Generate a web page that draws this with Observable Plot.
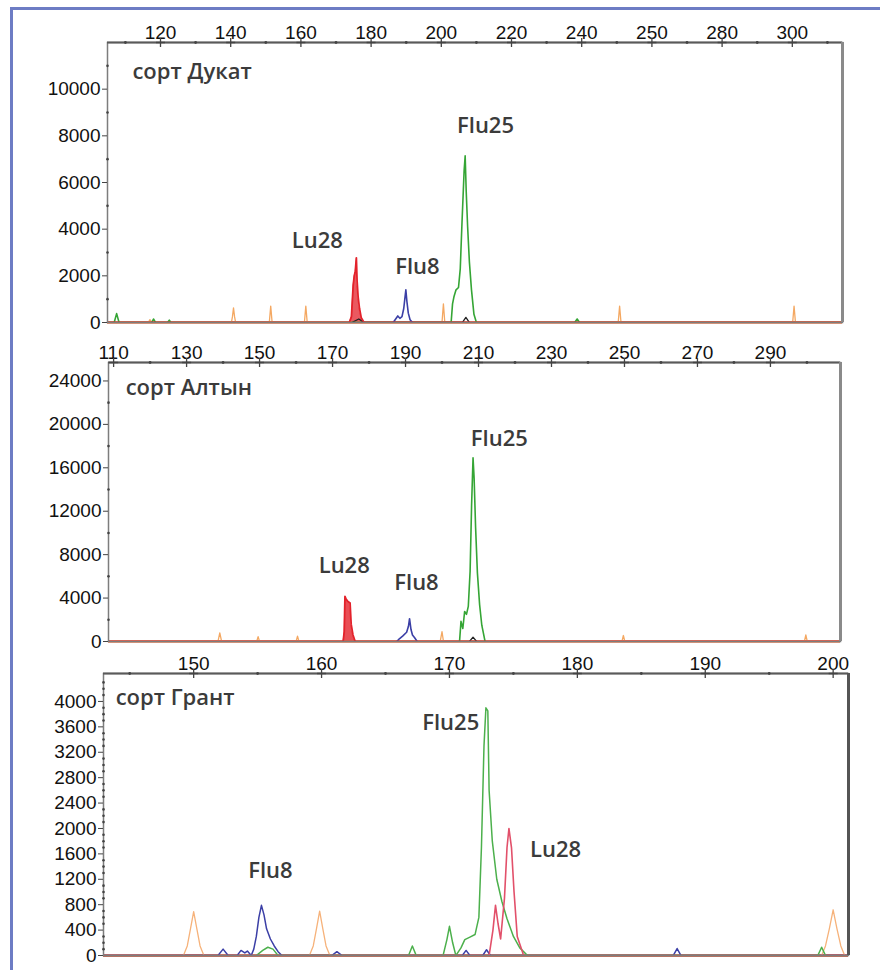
<!DOCTYPE html>
<html><head><meta charset="utf-8">
<script src="https://cdn.jsdelivr.net/npm/d3@7"></script>
<script src="https://cdn.jsdelivr.net/npm/@observablehq/plot@0.6"></script>
<style>
html,body{margin:0;padding:0;background:#fff;}
#wrap{position:relative;width:880px;height:970px;overflow:hidden;background:#fff;}
#border{position:absolute;left:10px;top:7px;width:900px;height:1000px;border-left:3px solid #6d7cc4;border-top:3px solid #6d7cc4;}
.panel{position:absolute;left:0;}
</style></head><body><div id="wrap"><div id="border"></div></div>
<script>
// ---------- Panel 1: сорт Дукат ----------
const p1XTicks = [120,140,160,180,200,220,240,260,280,300];
const p1XLabels = ["120","140","160","180","200","220","240","250","280","300"];
const p1XMinor = [110,130,150,170,190,210,230,250,270,290,310];
const p1YTicks = [0,2000,4000,6000,8000,10000];
const p1YMinor = [1000,3000,5000,7000,9000,11000];
const duk_orange = [[105,0],[116.5,0],[117,120],[117.5,0],[140.2,0],[140.5,250],[140.8,630],[141.1,250],[141.4,0],[151,0],[151.4,700],[151.8,0],[161,0],[161.4,700],[161.8,0],[200.2,0],[200.6,800],[201,0],[250.4,0],[250.8,700],[251.2,0],[300.1,0],[300.5,700],[300.9,0],[314,0]];
const duk_red = [[105,0],[173.8,0],[174.4,250],[174.9,1600],[175.2,2000],[175.5,2200],[175.8,2770],[176.0,1800],[176.3,1100],[176.7,600],[177.2,200],[178,0],[314,0]];
const duk_blue = [[186.3,0],[187,150],[187.6,280],[188.2,180],[188.8,250],[189.3,600],[189.6,1000],[189.9,1400],[190.2,900],[190.6,400],[191.1,120],[191.8,0]];
const duk_green = [[105,0],[106.8,0],[107.5,380],[108.2,0],[117.5,0],[118,150],[118.6,0],[122,0],[122.5,100],[123,0],[202.8,0],[203.2,800],[203.6,1100],[204.2,1400],[204.9,1500],[205.4,2300],[205.9,4300],[206.5,6500],[206.8,7140],[207.1,5600],[207.5,4100],[208.0,2600],[208.6,1400],[209.3,350],[210,0],[238,0],[238.7,150],[239.4,0],[314,0]];
const duk_black = [[174.5,0],[176.5,150],[178,0],[206,0],[207,220],[208,0]];
const p1Title = "сорт Дукат";
const p1Peaks = ["Lu28","Flu8","Flu25"];
const p1PeakX = [164.7,193.2,212.6];
const p1PeakY = [3500,2394,8437];

// ---------- Panel 2: сорт Алтын ----------
const p2XTicks = [110,130,150,170,190,210,230,250,270,290];
const p2XLabels = ["110","130","150","170","190","210","230","250","270","290"];
const p2XMinor = [120,140,160,180,200,220,240,260,280,300];
const p2YTicks = [0,4000,8000,12000,16000,20000,24000];
const p2YMinor = [2000,6000,10000,14000,18000,22000];
const alt_orange = [[108.6,0],[138.6,0],[139.1,800],[139.6,0],[149.2,0],[149.6,450],[150,0],[160,0],[160.4,500],[160.8,0],[199.5,0],[200,900],[200.4,0],[249.3,0],[249.7,550],[250.1,0],[299.3,0],[299.7,600],[300.1,0],[309.2,0]];
const alt_red = [[108.6,0],[172.9,0],[173.2,900],[173.4,4150],[173.7,3900],[174.2,3700],[174.8,3540],[175.1,1600],[175.6,600],[176.2,0],[309.2,0]];
const alt_blue = [[187.6,0],[188.3,250],[189.2,500],[190.3,850],[190.8,1400],[191.1,2100],[191.5,1100],[191.9,600],[192.5,350],[193.2,0]];
const alt_green = [[204.8,0],[205.2,1850],[205.7,1200],[206.2,2770],[206.7,2500],[207.2,3230],[207.7,6500],[208.1,12500],[208.5,16920],[208.8,15000],[209.2,10500],[209.7,6300],[210.3,3400],[210.9,1500],[211.8,0]];
const alt_black = [[207.5,0],[208.5,400],[209.5,0]];
const p2Title = "сорт Алтын";
const p2Peaks = ["Lu28","Flu8","Flu25"];
const p2PeakX = [173.2,193.0,215.7];
const p2PeakY = [6924,5420,18650];

// ---------- Panel 3: сорт Грант ----------
const p3XTicks = [150,160,170,180,190,200];
const p3XLabels = ["150","160","170","180","190","200"];
const p3XMinor = [145,155,165,175,185,195];
const p3YTicks = [0,400,800,1200,1600,2000,2400,2800,3200,3600,4000];
const p3YMinor = [100,200,300,500,600,700,900,1000,1100,1300,1400,1500,1700,1800,1900,2100,2200,2300,2500,2600,2700,2900,3000,3100,3300,3400,3500,3700,3800,3900,4100,4200,4300];
const gr_orange = [[142.95,0],[149.2,0],[149.5,150],[149.75,420],[150.0,690],[150.25,420],[150.5,150],[150.8,0],[159.05,0],[159.35,150],[159.6,420],[159.85,700],[160.1,420],[160.35,150],[160.65,0],[199.1,0],[199.4,150],[199.7,420],[200.0,720],[200.3,420],[200.6,150],[200.9,0],[201.2,0]];
const gr_blue = [[142.95,0],[151.9,0],[152.3,100],[152.7,0],[153.4,0],[153.7,80],[154.0,40],[154.2,70],[154.5,0],[154.7,100],[154.9,300],[155.1,600],[155.3,790],[155.5,640],[155.7,420],[156.0,260],[156.3,150],[156.6,60],[156.9,0],[160.8,0],[161.2,60],[161.6,0],[171.0,0],[171.3,80],[171.6,0],[172.6,0],[172.9,90],[173.2,0],[187.5,0],[187.8,110],[188.1,0],[201.2,0]];
const gr_green = [[154.9,0],[155.4,80],[155.8,130],[156.2,100],[156.6,0],[166.8,0],[167.1,150],[167.4,0],[169.5,0],[169.8,250],[170.0,460],[170.25,200],[170.5,0],[170.9,120],[171.2,250],[171.6,290],[172.0,330],[172.3,600],[172.5,1700],[172.7,3300],[172.85,3900],[173.0,3850],[173.1,2600],[173.35,1800],[173.7,1200],[174.1,850],[174.5,580],[175.0,300],[175.5,120],[176.1,0],[198.8,0],[199.1,130],[199.4,0]];
const gr_red = [[142.95,0],[173.1,0],[173.4,400],[173.6,790],[173.8,500],[174.0,260],[174.3,900],[174.5,1700],[174.65,2000],[174.85,1700],[175.05,1000],[175.3,300],[175.8,0],[201.2,0]];
const p3Title = "сорт Грант";
const p3Peaks = ["Flu8","Flu25","Lu28"];
const p3PeakX = [156.0,170.1,178.3];
const p3PeakY = [1327,3655,1663];

const pts = arr => arr.map(([x, y]) => ({x, y}));

function panel(o) {
  const lines = o.traces.map(t => Plot.line(pts(t.data), {x: "x", y: "y", stroke: t.color, strokeWidth: t.width, strokeOpacity: t.opacity ?? 1, clip: true}));
  const areas = o.traces.filter(t => t.fill).map(t => Plot.areaY(pts(t.data), {x: "x", y: "y", fill: t.color, fillOpacity: t.fill, clip: true}));
  const labelFont = {fontFamily: "'Open Sans', sans-serif", fontWeight: 600, fontSize: 22, fill: "#3b3b3b"};
  return Plot.plot({
    width: 880, height: o.height,
    marginTop: o.mt, marginBottom: o.mb, marginLeft: o.ml, marginRight: o.mr,
    x: {domain: o.xDomain, axis: null, label: null},
    y: {domain: o.yDomain, axis: null, label: null},
    style: {fontFamily: "'Liberation Sans', Arial, sans-serif", fontSize: "19px", color: "#111", background: "transparent", overflow: "visible"},
    marks: [
      Plot.ruleY([0], {stroke: o.baseColor, strokeWidth: 3}),
      ...areas,
      ...lines,
      Plot.frame({stroke: "#7d7d7d", strokeWidth: 1.5}),
      Plot.ruleY([o.yDomain[1]], {stroke: "#5a5a5a", strokeWidth: 2}),
      Plot.ruleX([o.xDomain[1]], {stroke: o.rightColor, strokeWidth: 3}),
      Plot.axisX({anchor: "top", ticks: o.xTicks, tickFormat: d => o.xLabels[o.xTicks.indexOf(d)], tickSize: 0, tickPadding: 4, label: null}),
      Plot.dot(o.xTicks, {x: d => d, frameAnchor: "top", symbol: "plus", r: 3, stroke: "#444", strokeWidth: 1.3}),
      Plot.dot(o.xMinor, {x: d => d, frameAnchor: "top", r: 1.4, fill: "#444"}),
      Plot.axisY({ticks: o.yTicks, tickFormat: "d", tickSize: 5, tickPadding: 2, label: null, stroke: "#444"}),
      Plot.dot(o.yMinor, {y: d => d, frameAnchor: "left", r: 1.3, fill: "#444"}),
      Plot.text([o.title], {x: () => o.titleX, y: () => o.titleY, text: d => d, textAnchor: "start", ...labelFont}),
      Plot.text(o.peaks, {x: (d, i) => o.peakX[i], y: (d, i) => o.peakY[i], text: d => d, textAnchor: "middle", ...labelFont})
    ]
  });
}

const cfgs = [
  {top: 0, height: 330, mt: 42, mb: 8, ml: 107, mr: 38, xDomain: [104.9, 314.3], yDomain: [0, 12000],
   xTicks: p1XTicks, xLabels: p1XLabels, xMinor: p1XMinor, yTicks: p1YTicks, yMinor: p1YMinor,
   baseColor: "#ec9a78", rightColor: "#8a8a8a",
   title: p1Title, titleX: 112, titleY: 10745, peaks: p1Peaks, peakX: p1PeakX, peakY: p1PeakY,
   traces: [
     {data: duk_orange, color: "#f4a862", width: 1.3},
     {data: duk_black, color: "#222", width: 1.3},
     {data: duk_green, color: "#35a535", width: 1.6},
     {data: duk_blue, color: "#3b3fa6", width: 1.6},
     {data: duk_red, color: "#e3222b", width: 1.8, fill: 0.75}
   ]},
  {top: 320, height: 329, mt: 42, mb: 8, ml: 108, mr: 40, xDomain: [108.6, 309.2], yDomain: [0, 25700],
   xTicks: p2XTicks, xLabels: p2XLabels, xMinor: p2XMinor, yTicks: p2YTicks, yMinor: p2YMinor,
   baseColor: "#ec9a78", rightColor: "#8a8a8a",
   title: p2Title, titleX: 113.3, titleY: 23380, peaks: p2Peaks, peakX: p2PeakX, peakY: p2PeakY,
   traces: [
     {data: alt_orange, color: "#f4a862", width: 1.3},
     {data: alt_black, color: "#222", width: 1.3},
     {data: alt_green, color: "#35a535", width: 1.6},
     {data: alt_blue, color: "#3b3fa6", width: 1.6},
     {data: alt_red, color: "#e3222b", width: 1.8, fill: 0.8}
   ]},
  {top: 640, height: 325, mt: 33, mb: 10, ml: 103, mr: 32, xDomain: [142.95, 201.2], yDomain: [0, 4440],
   xTicks: p3XTicks, xLabels: p3XLabels, xMinor: p3XMinor, yTicks: p3YTicks, yMinor: p3YMinor,
   baseColor: "#c8705a", rightColor: "#555",
   title: p3Title, titleX: 143.9, titleY: 4050, peaks: p3Peaks, peakX: p3PeakX, peakY: p3PeakY,
   traces: [
     {data: gr_orange, color: "#f6b27a", width: 1.3},
     {data: gr_blue, color: "#3b3fa6", width: 1.5},
     {data: gr_green, color: "#4cb04c", width: 1.5},
     {data: gr_red, color: "#e2506a", width: 1.6}
   ]}
];

const wrap = document.getElementById("wrap");
for (const c of cfgs) {
  const svg = panel(c);
  svg.classList.add("panel");
  svg.style.top = c.top + "px";
  wrap.appendChild(svg);
}
</script></body></html>
